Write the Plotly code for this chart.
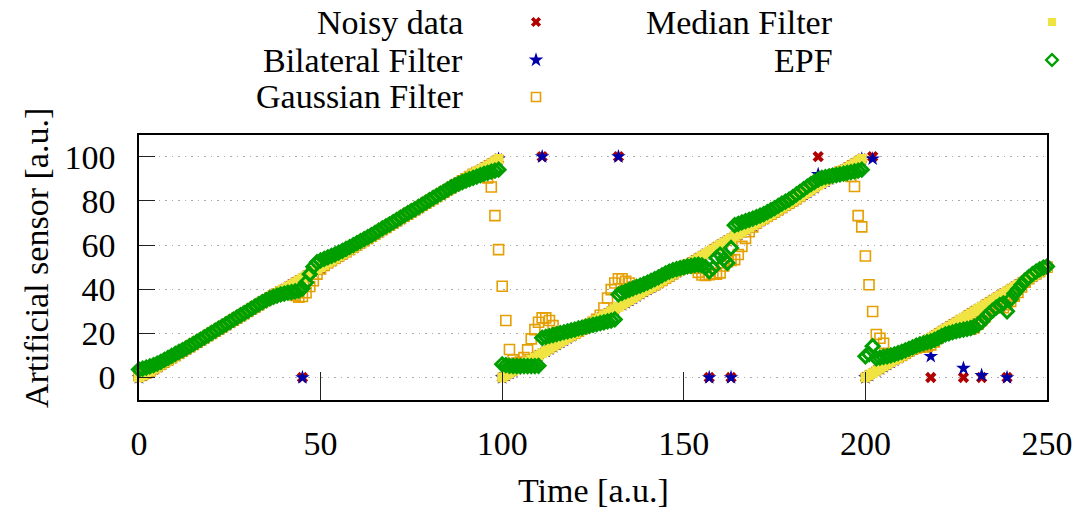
import plotly.graph_objects as go

# ---------------- data (one sample per time unit, t = 0 .. 250) ----------------
TIME = list(range(0, 251))

NOISY = [
    0, 1, 2, 3, 4, 5, 6, 7, 8, 9,
    10, 11, 12, 13, 14, 15, 16, 17, 18, 19,
    20, 21, 22, 23, 24, 25, 26, 27, 28, 29,
    30, 31, 32, 33, 34, 35, 36, 37, 38, 39,
    40, 41, 42, 43, 44, 0, 46, 47, 48, 49,
    50, 51, 52, 53, 54, 55, 56, 57, 58, 59,
    60, 61, 62, 63, 64, 65, 66, 67, 68, 69,
    70, 71, 72, 73, 74, 75, 76, 77, 78, 79,
    80, 81, 82, 83, 84, 85, 86, 87, 88, 89,
    90, 91, 92, 93, 94, 95, 96, 97, 98, 99,
    0, 1, 2, 3, 4, 5, 6, 7, 8, 9,
    10, 100, 12, 13, 14, 15, 16, 17, 18, 19,
    20, 21, 22, 23, 24, 25, 26, 27, 28, 29,
    30, 31, 100, 33, 34, 35, 36, 37, 38, 39,
    40, 41, 42, 43, 44, 45, 46, 47, 48, 49,
    50, 51, 52, 53, 54, 55, 56, 0, 58, 59,
    60, 61, 62, 0, 64, 65, 66, 67, 68, 69,
    70, 71, 72, 73, 74, 75, 76, 77, 78, 79,
    80, 81, 82, 83, 84, 85, 86, 100, 88, 89,
    90, 91, 92, 93, 94, 95, 96, 97, 98, 99,
    0, 1, 100, 3, 4, 5, 6, 7, 8, 9,
    10, 11, 12, 13, 14, 15, 16, 17, 0, 19,
    20, 21, 22, 23, 24, 25, 26, 0, 28, 29,
    30, 31, 0, 33, 34, 35, 36, 37, 38, 0,
    40, 41, 42, 43, 44, 45, 46, 47, 48, 49,
    50,
]

BILATERAL = [
    0, 1, 2, 3, 4, 5, 6, 7, 8, 9,
    10, 11, 12, 13, 14, 15, 16, 17, 18, 19,
    20, 21, 22, 23, 24, 25, 26, 27, 28, 29,
    30, 31, 32, 33, 34, 35, 36, 37, 38, 39,
    40, 41, 42, 43, 44, 0, 46, 47, 48, 49,
    50, 51, 52, 53, 54, 55, 56, 57, 58, 59,
    60, 61, 62, 63, 64, 65, 66, 67, 68, 69,
    70, 71, 72, 73, 74, 75, 76, 77, 78, 79,
    80, 81, 82, 83, 84, 85, 86, 87, 88, 89,
    90, 91, 92, 93, 94, 95, 96, 97, 98, 99,
    0, 1, 2, 3, 4, 5, 6, 7, 8, 9,
    10, 100, 12, 13, 14, 15, 16, 17, 18, 19,
    20, 21, 22, 23, 24, 25, 26, 27, 28, 29,
    30, 31, 100, 33, 34, 35, 36, 37, 38, 39,
    40, 41, 42, 43, 44, 45, 46, 47, 48, 49,
    50, 51, 52, 53, 54, 55, 56, 0, 58, 59,
    60, 61, 62, 0, 64, 65, 66, 67, 68, 69,
    70, 71, 72, 73, 74, 75, 76, 77, 78, 79,
    80, 81, 82, 83, 84, 85, 86, 92, 88, 89,
    90, 91, 92, 93, 94, 95, 96, 97, 98, 99,
    0, 1, 99, 3, 4, 5, 6, 7, 8, 9,
    10, 11, 12, 13, 14, 15, 16, 17, 9.6, 19,
    20, 21, 22, 23, 24, 25, 26, 4.2, 28, 29,
    30, 31, 1.0, 33, 34, 35, 36, 37, 38, 0,
    40, 41, 42, 43, 44, 45, 46, 47, 48, 49,
    50,
]

GAUSSIAN = [
    0.8, 1.3, 2.1, 3, 4, 5, 6, 7, 8, 9,
    10, 11, 12, 13, 14, 15, 16, 17, 18, 19,
    20, 21, 22, 23, 24, 25, 26, 27, 28, 29,
    30, 31, 32, 33, 34, 35, 36, 37, 37.9, 38.8,
    39.4, 39.4, 38.8, 37.2, 36.4, 36.7, 38.4, 41.2, 43.8, 46.8,
    49.2, 50.8, 52, 53, 54, 55, 56, 57, 58, 59,
    60, 61, 62, 63, 64, 65, 66, 67, 68, 69,
    70, 71, 72, 73, 74, 75, 76, 77, 78, 79,
    80, 81, 82, 83, 84, 85, 86, 87, 88, 89,
    90, 91, 92, 92.8, 93.4, 93.0, 90.4, 86.3, 73.3, 57.9,
    41.3, 25.8, 12.7, 8.0, 6.5, 7.0, 9.0, 12.5, 17.5, 21.7,
    25.0, 27.0, 27.0, 25.8, 23.5, 20.5, 18.8, 18.3, 18.6, 19.3,
    20.1, 21, 22, 23, 24, 25, 26.4, 28.2, 31.5, 36.0,
    39.8, 42.8, 44.7, 44.7, 43.6, 42.8, 41.0, 39.8, 39.6, 40.0,
    40.5, 41.2, 42, 43, 44, 45, 46, 47, 48, 49,
    50, 50.8, 50.8, 49.5, 47.6, 46.4, 46.2, 46.6, 47.0, 46.8,
    47.4, 50.5, 52.4, 53.0, 53.4, 55.7, 59.4, 63.0, 66.0, 68.2,
    70.0, 71.2, 72, 73, 74, 75, 76, 77, 78, 79,
    80, 81, 82.2, 83.6, 85.2, 86.8, 88.2, 89.3, 90.0, 90.5,
    91.0, 91.6, 92.3, 93.0, 93.5, 93.0, 91.0, 86.5, 73.3, 68.2,
    55.0, 42.0, 29.9, 19.5, 17.8, 15.5, 10.5, 8.6, 8.6, 9.2,
    10.1, 11.0, 12.0, 12.8, 13.4, 13.7, 13.8, 14.1, 14.8, 16.1,
    17.8, 19.6, 21.0, 21.8, 21.9, 21.8, 21.4, 21.6, 21.8, 21.9,
    22.6, 24.2, 25.8, 27.5, 29.7, 31.3, 32.1, 31.9, 31.6, 33.0,
    34.5, 36.8, 38.5, 41.0, 43.2, 44.8, 46, 47, 48, 49,
    50,
]

MEDIAN = [
    0, 1, 2, 3, 4, 5, 6, 7, 8, 9,
    10, 11, 12, 13, 14, 15, 16, 17, 18, 19,
    20, 21, 22, 23, 24, 25, 26, 27, 28, 29,
    30, 31, 32, 33, 34, 35, 36, 37, 38, 39,
    40, 41, 42, 43, 44, 45, 46, 47, 48, 49,
    50, 51, 52, 53, 54, 55, 56, 57, 58, 59,
    60, 61, 62, 63, 64, 65, 66, 67, 68, 69,
    70, 71, 72, 73, 74, 75, 76, 77, 78, 79,
    80, 81, 82, 83, 84, 85, 86, 87, 88, 89,
    90, 91, 92, 93, 94, 95, 96, 97, 98, 99,
    0, 1, 2, 3, 4, 5, 6, 7, 8, 9,
    10, 11, 12, 13, 14, 15, 16, 17, 18, 19,
    20, 21, 22, 23, 24, 25, 26, 27, 28, 29,
    30, 31, 32, 33, 34, 35, 36, 37, 38, 39,
    40, 41, 42, 43, 44, 45, 46, 47, 48, 49,
    50, 51, 52, 53, 54, 55, 56, 57, 58, 59,
    60, 61, 62, 63, 64, 65, 66, 67, 68, 69,
    70, 71, 72, 73, 74, 75, 76, 77, 78, 79,
    80, 81, 82, 83, 84, 85, 86, 87, 88, 89,
    90, 91, 92, 93, 94, 95, 96, 97, 98, 99,
    0, 1, 2, 3, 4, 5, 6, 7, 8, 9,
    10, 11, 12, 13, 14, 15, 16, 17, 18, 19,
    20, 21, 22, 23, 24, 25, 26, 27, 28, 29,
    30, 31, 32, 33, 34, 35, 36, 37, 38, 39,
    40, 41, 42, 43, 44, 45, 46, 47, 48, 49,
    50,
]

EPF = [
    3.6, 4.0, 4.5, 5.0, 5.6, 6.3, 7.1, 8.0, 8.9, 9.8,
    10.7, 11.6, 12.4, 13.3, 14.3, 15.2, 16.2, 17.2, 18.2, 19.2,
    20.2, 21.2, 22.2, 23.2, 24.2, 25.2, 26.2, 27.2, 28.2, 29.2,
    30.2, 31.2, 32.2, 33.2, 34.1, 35.0, 35.8, 36.5, 37.1, 37.6,
    38.0, 38.4, 38.7, 39.0, 39.4, 40.3, 43.0, 46.8, 50.2, 52.2,
    53.0, 53.7, 54.4, 55.1, 55.8, 56.6, 57.4, 58.2, 59.1, 60.0,
    60.9, 61.8, 62.7, 63.6, 64.5, 65.5, 66.5, 67.5, 68.4, 69.4,
    70.4, 71.4, 72.4, 73.4, 74.4, 75.4, 76.3, 77.3, 78.3, 79.3,
    80.3, 81.3, 82.3, 83.3, 84.2, 85.2, 86.2, 87.0, 87.8, 88.5,
    89.2, 89.8, 90.4, 91.0, 91.6, 92.2, 92.7, 93.2, 93.7, 94.1,
    6.0, 5.6, 5.3, 5.2, 5.2, 5.2, 5.2, 5.2, 5.2, 5.2,
    5.3, 18.0, 18.4, 18.8, 19.2, 19.7, 20.1, 20.5, 20.9, 21.3,
    21.7, 22.2, 22.6, 23.0, 23.4, 23.8, 24.2, 24.6, 25.0, 25.4,
    25.8, 26.3, 37.6, 38.3, 39.0, 39.7, 40.4, 41.0, 41.6, 42.3,
    43.0, 43.8, 44.6, 45.4, 46.3, 47.2, 48.0, 48.6, 49.1, 49.5,
    49.9, 50.3, 50.6, 50.9, 51.1, 50.8, 50.0, 48.1, 49.5, 54.2,
    55.7, 53.5, 51.9, 58.7, 69.0, 69.6, 70.2, 70.8, 71.4, 72.0,
    72.6, 73.3, 74.0, 74.9, 75.8, 76.7, 77.7, 78.7, 79.6, 80.6,
    81.7, 82.9, 84.1, 85.3, 86.5, 87.6, 88.6, 89.6, 90.4, 90.8,
    91.1, 91.4, 91.7, 92.0, 92.3, 92.7, 93.0, 93.3, 93.7, 94.1,
    9.6, 10.6, 14.2, 8.7, 9.0, 9.3, 9.6, 10.0, 10.5, 11.0,
    11.6, 12.3, 13.0, 13.7, 14.4, 15.0, 15.5, 16.0, 16.4, 17.0,
    17.8, 18.7, 19.5, 20.0, 20.5, 21.0, 21.4, 21.7, 22.0, 22.4,
    23.0, 24.0, 25.2, 27.2, 28.8, 30.3, 31.7, 32.8, 33.6, 30.0,
    35.5, 38.0, 40.0, 42.0, 44.0, 45.5, 46.8, 48.0, 49.0, 49.8,
    50.3,
]

SERIES_NAMES = ["Noisy data", "Bilateral Filter", "Gaussian Filter", "Median Filter", "EPF"]
X_TICKS = [0, 50, 100, 150, 200, 250]
Y_TICKS = [0, 20, 40, 60, 80, 100]

# ---------------- styling ----------------
FONT = "Liberation Serif"
FS = 34
W, H = 1080, 511
STYLES = [
    dict(symbol="x", size=10, color="#b00000", line=dict(width=0)),
    dict(symbol="star", size=11, color="#0000aa", line=dict(width=0)),
    dict(symbol="square-open", size=10, color="#e69f00", line=dict(width=1.6, color="#e69f00")),
    dict(symbol="square", size=10, color="#f0e442", line=dict(width=0)),
    dict(symbol="diamond-open", size=10, color="#009f00", line=dict(width=3, color="#009f00")),
]
KEY_STYLES = [
    dict(symbol="x", size=9, color="#b00000", line=dict(width=0)),
    dict(symbol="star", size=11, color="#0000aa", line=dict(width=0)),
    dict(symbol="square-open", size=9, color="#e69f00", line=dict(width=1.6, color="#e69f00")),
    dict(symbol="square", size=8, color="#f0e442", line=dict(width=0)),
    dict(symbol="diamond-open", size=9, color="#009f00", line=dict(width=2.4, color="#009f00")),
]
VALUES = [NOISY, BILATERAL, GAUSSIAN, MEDIAN, EPF]

fig = go.Figure()
for name, vals, st in zip(SERIES_NAMES, VALUES, STYLES):
    fig.add_trace(go.Scatter(
        x=TIME, y=vals, mode="markers", name=name, marker=st,
        cliponaxis=False, showlegend=False, xaxis="x", yaxis="y",
    ))

# manual gnuplot-style key: text right-aligned, sample to the right (pixel layout)
KEY_TEXT_X = [465, 465, 465, 835, 835]
KEY_SYM_X = [536, 536, 536, 1052, 1052]
KEY_Y = [22, 60, 97, 22, 60]
annotations = []
for name, st, tx, sx, ky in zip(SERIES_NAMES, KEY_STYLES, KEY_TEXT_X, KEY_SYM_X, KEY_Y):
    fig.add_trace(go.Scatter(
        x=[sx], y=[ky], mode="markers", marker=st, showlegend=False,
        xaxis="x2", yaxis="y2", cliponaxis=False, hoverinfo="skip",
    ))
    annotations.append(dict(
        text=name, xref="paper", yref="paper", x=tx / W, y=1 - ky / H,
        xanchor="right", yanchor="middle", showarrow=False,
        font=dict(family=FONT, size=FS, color="black"),
    ))

annotations.append(dict(
    text="Time [a.u.]", xref="paper", yref="paper", x=593 / W, y=1 - 490 / H,
    xanchor="center", yanchor="middle", showarrow=False,
    font=dict(family=FONT, size=FS, color="black"),
))
annotations.append(dict(
    text="Artificial sensor [a.u.]", xref="paper", yref="paper", x=36 / W, y=1 - 258 / H,
    xanchor="center", yanchor="middle", showarrow=False, textangle=-90,
    font=dict(family=FONT, size=FS, color="black"),
))

fig.update_layout(
    width=W, height=H, autosize=False,
    margin=dict(l=0, r=0, t=0, b=0, pad=0, autoexpand=False),
    paper_bgcolor="white", plot_bgcolor="rgba(0,0,0,0)",
    showlegend=False,
    annotations=annotations,
    xaxis=dict(
        domain=[139 / W, 1047 / W], range=[0, 250], anchor="y", automargin=False,
        showline=True, mirror=True, linecolor="black", linewidth=1.5,
        ticks="inside", ticklen=28, tickwidth=1.3, tickcolor="#222222",
        tickvals=X_TICKS, ticktext=[str(v) for v in X_TICKS],
        tickfont=dict(family=FONT, size=FS, color="black"),
        ticklabelstandoff=13,
        showgrid=False, zeroline=False,
    ),
    yaxis=dict(
        domain=[1 - 399.6 / H, 1 - 134.6 / H], range=[-10, 110], anchor="x", automargin=False,
        showline=True, mirror=True, linecolor="black", linewidth=1.5,
        ticks="inside", ticklen=16, tickwidth=1.3, tickcolor="#222222",
        tickvals=Y_TICKS, ticktext=[str(v) for v in Y_TICKS],
        tickfont=dict(family=FONT, size=FS, color="black"),
        ticklabelstandoff=15,
        showgrid=True, gridcolor="#aaaaaa", gridwidth=1.2, griddash="1.5px,5px",
        zeroline=False,
    ),
    xaxis2=dict(domain=[0, 1], range=[0, W], visible=False, anchor="y2",
                fixedrange=True, automargin=False),
    yaxis2=dict(domain=[0, 1], range=[H, 0], visible=False, anchor="x2",
                fixedrange=True, automargin=False),
)

# remove the default 8px page margin so the 1080x511 figure fills the window exactly
POST = (
    "document.documentElement.style.margin='0';"
    "document.body.style.margin='0';"
    "document.body.style.padding='0';"
    "document.body.style.overflow='hidden';"
)

fig.write_html("out.html", config={"displayModeBar": False, "responsive": False},
               post_script=POST)
